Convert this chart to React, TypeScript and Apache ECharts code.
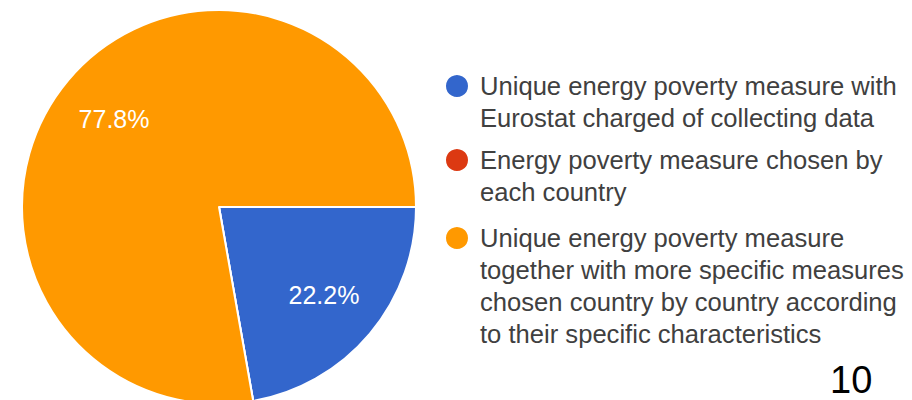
import React, { useEffect, useRef } from "react";
import * as echarts from "echarts";

const categories = [
  "Unique energy poverty measure with\nEurostat charged of collecting data",
  "Energy poverty measure chosen by\neach country",
  "Unique energy poverty measure\ntogether with more specific measures\nchosen country by country according\nto their specific characteristics",
];
const values = [2, 0, 7];
const colors = ["#3366CC", "#DC3912", "#FF9900"];
const pageNumber = "10";

export default function App() {
  const ref = useRef<HTMLDivElement>(null);
  useEffect(() => {
    if (!ref.current) return;
    const chart = echarts.init(ref.current, undefined, { renderer: "svg" });
    const L = 32;
    const iconCenters = [86, 160, 238];
    const data = categories.map((name, i) => ({
      name,
      value: values[i],
      itemStyle: { color: colors[i] },
    }));
    const legends = categories.map((name, i) => {
      const n = name.split("\n").length;
      return {
        orient: "vertical",
        left: 444,
        top: iconCenters[i] - ((2 * n - 1) * L) / 2,
        padding: 0,
        icon: "circle",
        itemWidth: 24,
        itemHeight: 24,
        selectedMode: false,
        data: [name],
        formatter: (nm: string) => " \n".repeat(n - 1) + nm,
        textStyle: {
          fontFamily: "Liberation Sans, Arial, sans-serif",
          fontSize: 25.6,
          color: "#404040",
          lineHeight: L,
          padding: [0, 0, 0, 6],
          backgroundColor: "rgba(0,0,0,0)",
        },
      };
    });
    chart.setOption({
      animation: false,
      backgroundColor: "#ffffff",
      legend: legends,
      series: [
        {
          type: "pie",
          center: [219, 207],
          radius: [0, 197],
          startAngle: 0,
          clockwise: true,
          label: { show: false },
          labelLine: { show: false },
          itemStyle: { borderColor: "#ffffff", borderWidth: 2 },
          emphasis: { disabled: true },
          data,
        },
        {
          type: "pie",
          center: [219, 207],
          radius: [71, 197],
          startAngle: 0,
          clockwise: true,
          silent: true,
          itemStyle: { color: "rgba(0,0,0,0)", borderWidth: 0 },
          emphasis: { disabled: true },
          labelLine: { show: false },
          label: {
            show: true,
            position: "inside",
            color: "#ffffff",
            fontFamily: "Liberation Sans, Arial, sans-serif",
            fontSize: 25,
            formatter: (p: any) =>
              p.value === 0 ? "" : Number(p.percent).toFixed(1) + "%",
          },
          data: categories.map((name, i) => ({ name, value: values[i] })),
        },
      ],
      graphic: [
        {
          type: "text",
          left: 830,
          top: 361,
          style: {
            text: pageNumber,
            fontFamily: "Liberation Sans, Arial, sans-serif",
            fontSize: 38,
            fill: "#000000",
          },
        },
      ],
    });
    return () => chart.dispose();
  }, []);
  return (
    <div
      ref={ref}
      style={{ position: "fixed", left: 0, top: 0, width: 912, height: 400 }}
    />
  );
}
